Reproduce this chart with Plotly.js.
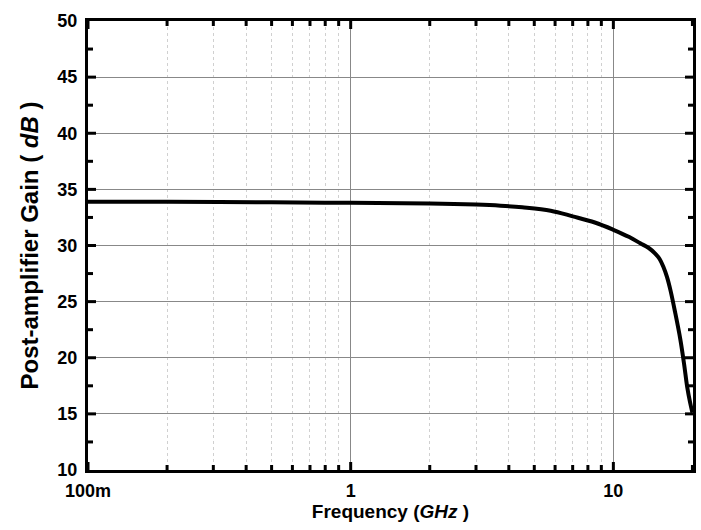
<!DOCTYPE html>
<html><head><meta charset="utf-8">
<script src="https://cdn.plot.ly/plotly-3.0.1.min.js"></script>
<style>html,body{margin:0;padding:0;background:#fff}</style>
</head><body>
<div id="chart" style="width:701px;height:530px"></div>
<script>
const freqGHz = [0.1, 0.2, 0.5, 1, 2, 3, 3.72, 4.5, 5.77, 7, 8.5, 10, 11.5, 12.66, 13.6, 14.4, 15.0, 15.5, 16.0, 16.5, 17.2, 18.0, 18.6, 19.1, 19.6, 20.0];
const gainDB  = [33.9, 33.9, 33.85, 33.8, 33.75, 33.65, 33.55, 33.4, 33.1, 32.6, 32.05, 31.4, 30.75, 30.2, 29.8, 29.3, 28.8, 28.1, 27.2, 26.0, 24.0, 21.6, 19.4, 17.4, 16.0, 15.1];
const xTickVals = [0.1, 1, 10];
const xTickText = ['100m', '1', '10'];
const xMinorVals = [0.2,0.3,0.4,0.5,0.6,0.7,0.8,0.9,2,3,4,5,6,7,8,9,20];
const yTickVals = [10,15,20,25,30,35,40,45,50];
const yMinorVals = [12.5,17.5,22.5,27.5,32.5,37.5,42.5,47.5];

const fam = 'Liberation Sans';
const tf = {family: fam, size: 18, color: '#000', weight: 'bold'};

// inside tick marks on all four sides, built from the tick arrays
const shapes = [];
function xTick(v, len) {
  [[0, 0, len], [1, -len, 0]].forEach(([anc, a, b]) => shapes.push({
    type: 'line', layer: 'above', xref: 'x', yref: 'paper', ysizemode: 'pixel', yanchor: anc,
    x0: v, x1: v, y0: a, y1: b, line: {color: '#000', width: 3}
  }));
}
function yTick(v, len) {
  [[0, 0, len], [1, -len, 0]].forEach(([anc, a, b]) => shapes.push({
    type: 'line', layer: 'above', yref: 'y', xref: 'paper', xsizemode: 'pixel', xanchor: anc,
    y0: v, y1: v, x0: a, x1: b, line: {color: '#000', width: 3}
  }));
}
xTickVals.forEach(v => xTick(v, 8));
xMinorVals.forEach(v => xTick(v, 5));
yTickVals.slice(1, -1).forEach(v => yTick(v, 8));
yMinorVals.forEach(v => yTick(v, 5));

Plotly.newPlot('chart', [{
  x: freqGHz, y: gainDB, type: 'scatter', mode: 'lines',
  line: {color: '#000', width: 4, shape: 'spline', smoothing: 1}, hoverinfo: 'skip'
}], {
  width: 701, height: 530,
  margin: {l: 88, r: 8, t: 21, b: 60},
  paper_bgcolor: '#fff', plot_bgcolor: '#fff',
  showlegend: false,
  font: {family: fam, size: 18, color: '#000', weight: 'bold'},
  shapes: shapes,
  xaxis: {
    type: 'log', range: [-1, Math.log10(20.1)],
    tickmode: 'array', tickvals: xTickVals, ticktext: xTickText, tickfont: tf,
    ticks: '', ticklabelstandoff: 2,
    showgrid: true, gridcolor: '#888', gridwidth: 1,
    showline: true, linecolor: '#000', linewidth: 3, mirror: true,
    zeroline: false,
    minor: {tickmode: 'array', tickvals: xMinorVals, ticks: '', showgrid: true, gridcolor: '#d0d0d0', gridwidth: 1, griddash: 'dot'},
    title: {text: 'Frequency (<i>GHz</i> )', standoff: 2,
            font: {family: fam, size: 19, color: '#000', weight: 'bold'}}
  },
  yaxis: {
    range: [10, 50], tickmode: 'array', tickvals: yTickVals, tickfont: tf,
    ticks: '', ticklabelstandoff: 4,
    showgrid: true, gridcolor: '#888', gridwidth: 1,
    showline: true, linecolor: '#000', linewidth: 3, mirror: true,
    zeroline: false,
    title: {text: 'Post-amplifier Gain ( <i>dB</i> )', standoff: 12,
            font: {family: fam, size: 24, color: '#000', weight: 'bold'}}
  }
}, {displayModeBar: false});
</script>
</body></html>
